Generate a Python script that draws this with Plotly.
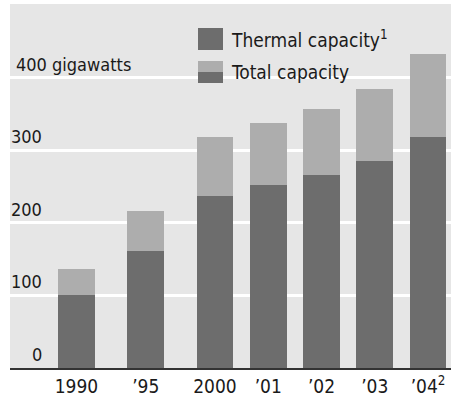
import plotly.graph_objects as go

# Installed generating capacity, gigawatts
years = ["1990", "\u201995", "2000", "\u201901", "\u201902", "\u201903", "\u201904<sup>2</sup>"]
total_capacity = [137, 217, 319, 338, 357, 385, 433]
thermal_capacity = [101, 162, 237, 253, 266, 286, 318]

# Horizontal slots: 1990 and 1995 are spaced wider than the annual bars
slot_x = [0, 1.3, 2.6, 3.6, 4.6, 5.6, 6.6]

W, H = 451, 396
M_L, M_R, M_T, M_B = 10, 0, 4, 28
PW, PH = W - M_L - M_R, H - M_T - M_B

BG = "#e6e6e6"
LIGHT = "#adadad"
DARK = "#6d6d6d"
INK = "#1a1a1a"
FONT = "DejaVu Sans Condensed, Roboto, sans-serif"


def px_x(p):
    return (p - M_L) / PW


def px_y(p):
    return (H - M_B - p) / PH


fig = go.Figure()
fig.add_trace(go.Bar(x=slot_x, y=total_capacity, width=0.69,
                     marker=dict(color=LIGHT, line=dict(width=0)),
                     name="Total capacity", showlegend=False))
fig.add_trace(go.Bar(x=slot_x, y=thermal_capacity, width=0.69,
                     marker=dict(color=DARK, line=dict(width=0)),
                     name="Thermal capacity", showlegend=False))

# Gridline value labels sitting just above each line
y_ticks = [0, 100, 200, 300, 400]
annotations = []
for v in y_ticks:
    if v == 400:
        annotations.append(dict(x=px_x(14), xref="paper", xanchor="left",
                                y=v, yref="y", yanchor="bottom", yshift=1,
                                text="400 gigawatts", showarrow=False,
                                font=dict(family=FONT, size=18, color=INK)))
    else:
        annotations.append(dict(x=px_x(44), xref="paper", xanchor="right",
                                y=v, yref="y", yanchor="bottom", yshift=1,
                                text=str(v), showarrow=False,
                                font=dict(family=FONT, size=18, color=INK)))

# Key
annotations.append(dict(x=px_x(229), xref="paper", xanchor="left",
                        y=px_y(39), yref="paper", yanchor="middle",
                        text="Thermal capacity<sup>1</sup>", showarrow=False,
                        font=dict(family=FONT, size=19, color=INK)))
annotations.append(dict(x=px_x(229), xref="paper", xanchor="left",
                        y=px_y(72), yref="paper", yanchor="middle",
                        text="Total capacity", showarrow=False,
                        font=dict(family=FONT, size=19, color=INK)))

shapes = [
    dict(type="rect", xref="paper", yref="paper", layer="between",
         x0=px_x(190), x1=px_x(347), y0=px_y(92), y1=px_y(18),
         fillcolor=BG, line=dict(width=0)),
    dict(type="rect", xref="paper", yref="paper",
         x0=px_x(198), x1=px_x(223), y0=px_y(50), y1=px_y(28),
         fillcolor=DARK, line=dict(width=0)),
    dict(type="rect", xref="paper", yref="paper",
         x0=px_x(198), x1=px_x(223), y0=px_y(72), y1=px_y(61),
         fillcolor=LIGHT, line=dict(width=0)),
    dict(type="rect", xref="paper", yref="paper",
         x0=px_x(198), x1=px_x(223), y0=px_y(83), y1=px_y(72),
         fillcolor=DARK, line=dict(width=0)),
]

fig.update_layout(
    width=W, height=H,
    margin=dict(l=M_L, r=M_R, t=M_T, b=M_B, pad=0),
    paper_bgcolor="white", plot_bgcolor=BG,
    barmode="overlay", bargap=0,
    showlegend=False,
    annotations=annotations,
    shapes=shapes,
    xaxis=dict(range=[-1.248, 7.031], tickvals=slot_x, ticktext=years,
               showgrid=False, zeroline=False, ticks="",
               showline=True, linecolor="#333333", linewidth=2,
               tickfont=dict(family=FONT, size=19, color=INK),
               fixedrange=True),
    yaxis=dict(range=[0, 502], tickvals=[100, 200, 300, 400],
               showticklabels=False, ticks="",
               showgrid=True, gridcolor="white", gridwidth=3,
               zeroline=False, showline=False, fixedrange=True),
)

fig.write_html("out.html")
